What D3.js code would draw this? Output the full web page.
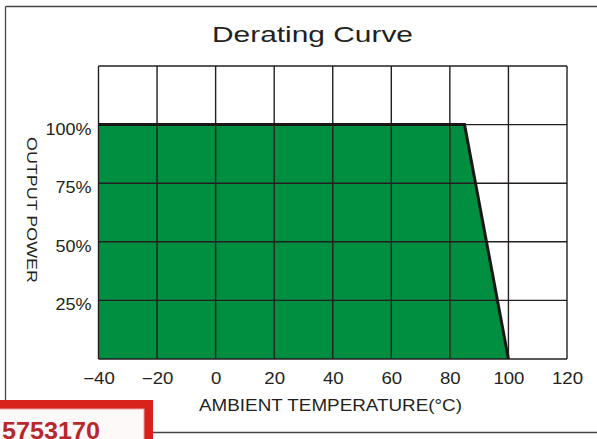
<!DOCTYPE html>
<html><head><meta charset="utf-8">
<script src="https://cdn.jsdelivr.net/npm/d3@7"></script>
<style>
html,body{margin:0;padding:0;background:#fff;}
svg{display:block;}
text{font-family:"Liberation Sans",Arial,sans-serif;fill:#231f20;}
</style></head>
<body>
<script>
const xTicks = [-40, -20, 0, 20, 40, 60, 80, 100, 120];
const yGrid = [0, 25, 50, 75, 100, 125];
const yTickLabels = [25, 50, 75, 100];
const temperature = [-40, 85, 100];
const outputPower = [100, 100, 0];
const title = "Derating Curve";
const xTitle = "AMBIENT TEMPERATURE(°C)";
const yTitle = "OUTPUT POWER";
const stampText = "5753170";

const W = 597, H = 439;
const svg = d3.select("body").append("svg").attr("width", W).attr("height", H);

const x = d3.scaleLinear().domain([-40, 120]).range([98.5, 567]);
const y = d3.scaleLinear().domain([0, 125]).range([359, 66]);
const ink = "#231f20";

// outer frame lines
svg.append("line").attr("x1", 5.5).attr("x2", W).attr("y1", 6.5).attr("y2", 6.5).attr("stroke", "#4a4546").attr("stroke-width", 1.3);
svg.append("line").attr("x1", 5.5).attr("x2", 5.5).attr("y1", 6.5).attr("y2", 400).attr("stroke", "#4a4546").attr("stroke-width", 1.3);
svg.append("line").attr("x1", 150).attr("x2", W).attr("y1", 432.5).attr("y2", 432.5).attr("stroke", "#4a4546").attr("stroke-width", 1.3);

// title
svg.append("text").attr("x", 212).attr("y", 42)
  .attr("font-size", 22.5).attr("textLength", 201).attr("lengthAdjust", "spacingAndGlyphs").text(title);

const data = temperature.map((t, i) => ({t, p: outputPower[i]}));

// area
const area = d3.area().x(d => x(d.t)).y0(y(0)).y1(d => y(d.p));
svg.append("path").datum(data).attr("d", area).attr("fill", "#008e40");

// grid
svg.append("g").selectAll("line").data(xTicks).join("line")
  .attr("x1", d => x(d)).attr("x2", d => x(d)).attr("y1", y(125)).attr("y2", y(0))
  .attr("stroke", ink).attr("stroke-width", 1.4);
svg.append("g").selectAll("line").data(yGrid).join("line")
  .attr("x1", x(-40)).attr("x2", x(120)).attr("y1", d => y(d)).attr("y2", d => y(d))
  .attr("stroke", ink).attr("stroke-width", 1.4);

// curve
const line = d3.line().x(d => x(d.t)).y(d => y(d.p));
svg.append("path").datum(data).attr("d", line).attr("fill", "none")
  .attr("stroke", "#1a1717").attr("stroke-width", 3).attr("stroke-linejoin", "miter");

// x axis labels
const xAxis = d3.axisBottom(x).tickValues(xTicks).tickSize(0).tickPadding(0)
  .tickFormat(d => d < 0 ? "\u2212" + Math.abs(d) : String(d));
const gx = svg.append("g").attr("transform", `translate(0,${372.5})`).call(xAxis);
gx.select(".domain").remove();
gx.selectAll("text").attr("font-size", 15.8).attr("fill", ink).attr("dy", "0.71em")
  .attr("font-family", "'Liberation Sans',Arial,sans-serif").attr("transform", "scale(1.18,1)");

// y axis labels
const yAxis = d3.axisLeft(y).tickValues(yTickLabels).tickSize(0).tickPadding(0)
  .tickFormat(d => d + "%");
const gy = svg.append("g").attr("transform", `translate(${91.5},4.5)`).call(yAxis);
gy.select(".domain").remove();
gy.selectAll("text").attr("font-size", 15.8).attr("fill", ink)
  .attr("font-family", "'Liberation Sans',Arial,sans-serif").attr("transform", "scale(1.14,1)");

// axis titles
svg.append("text").attr("x", 199).attr("y", 411)
  .attr("font-size", 16.5).attr("textLength", 263).attr("lengthAdjust", "spacingAndGlyphs").text(xTitle);
svg.append("text").attr("transform", "translate(27,137) rotate(90)")
  .attr("font-size", 15.5).attr("textLength", 146).attr("lengthAdjust", "spacingAndGlyphs").text(yTitle);

// red stamp box at bottom left
svg.append("rect").attr("x", -5).attr("y", 400).attr("width", 158).attr("height", 50).attr("fill", "#d7231c");
svg.append("rect").attr("x", -5).attr("y", 409).attr("width", 149).attr("height", 40).attr("fill", "#fdf9f9")
  .attr("stroke", "#e8a19c").attr("stroke-width", 1);
svg.append("text").attr("x", 2).attr("y", 438.5).attr("font-family", "'Liberation Serif','DejaVu Serif',serif")
  .attr("font-weight", "bold").attr("font-size", 24).attr("textLength", 98).attr("lengthAdjust", "spacingAndGlyphs")
  .style("fill", "#b7282e").text(stampText);
</script>
</body></html>
